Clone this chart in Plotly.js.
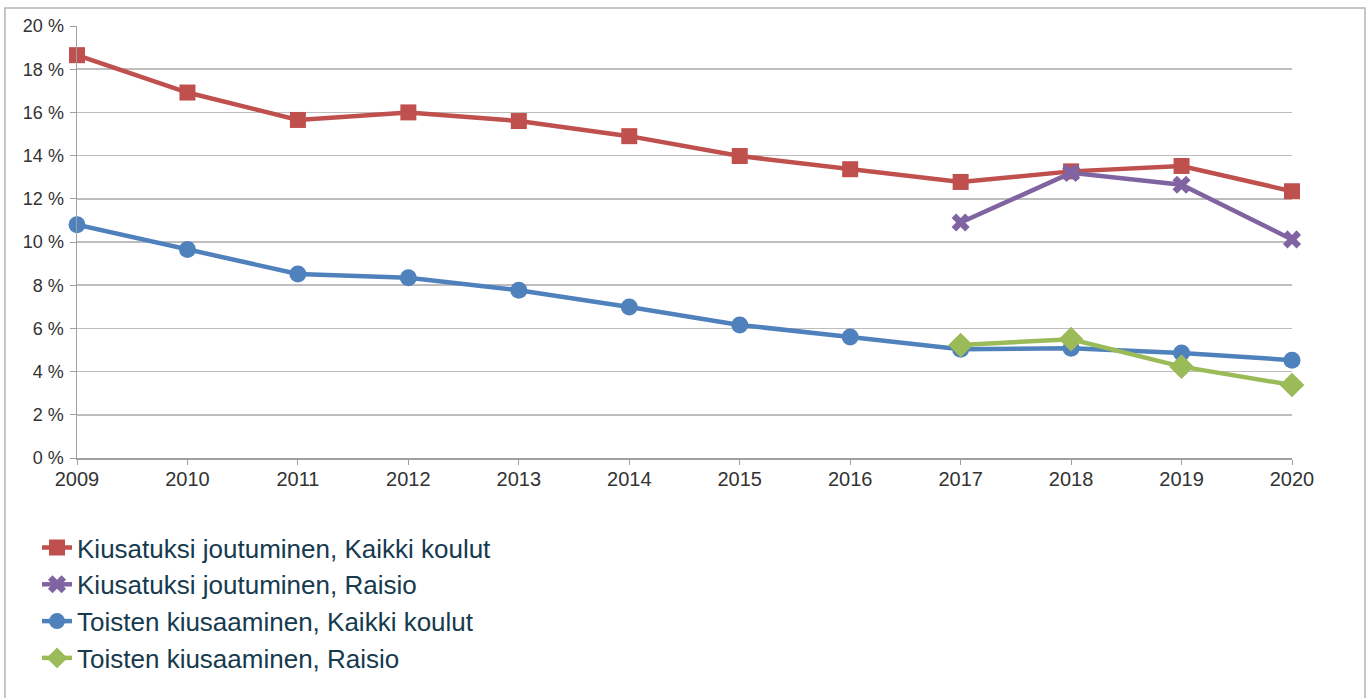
<!DOCTYPE html>
<html>
<head>
<meta charset="utf-8">
<script src="https://cdn.plot.ly/plotly-3.0.1.min.js"></script>
<style>html,body{margin:0;padding:0;background:#fff;}#chart{width:1367px;height:698px;}</style>
</head>
<body>
<div id="chart"></div>
<script>
const years = [2009, 2010, 2011, 2012, 2013, 2014, 2015, 2016, 2017, 2018, 2019, 2020];
const raisioYears = [2017, 2018, 2019, 2020];
const bulliedAll = [18.65, 16.92, 15.65, 16.0, 15.6, 14.9, 13.98, 13.37, 12.78, 13.27, 13.52, 12.35];
const bulliedRaisio = [10.9, 13.2, 12.65, 10.12];
const bullyingAll = [10.8, 9.65, 8.52, 8.34, 7.77, 6.99, 6.16, 5.6, 5.03, 5.08, 4.86, 4.53];
const bullyingRaisio = [5.23, 5.5, 4.23, 3.38];
const seriesNames = [
  "Kiusatuksi joutuminen, Kaikki koulut",
  "Kiusatuksi joutuminen, Raisio",
  "Toisten kiusaaminen, Kaikki koulut",
  "Toisten kiusaaminen, Raisio"
];
const yTickVals = [0, 2, 4, 6, 8, 10, 12, 14, 16, 18, 20];
const yTickText = ["0 %", "2 %", "4 %", "6 %", "8 %", "10 %", "12 %", "14 %", "16 %", "18 %", "20 %"];

const traces = [
  {x: years, y: bulliedAll, name: seriesNames[0], mode: "lines+markers",
   line: {color: "#C0504D", width: 4.5}, marker: {symbol: "square", size: 16, color: "#C0504D"}, cliponaxis: false, legendgroup: "a"},
  {x: raisioYears, y: bulliedRaisio, name: seriesNames[1], mode: "lines+markers",
   line: {color: "#8064A2", width: 4.5}, marker: {symbol: "x", size: 16, color: "#8064A2"}, cliponaxis: false, legendgroup: "b"},
  {x: years, y: bullyingAll, name: seriesNames[2], mode: "lines+markers",
   line: {color: "#4F81BD", width: 4.5}, marker: {symbol: "circle", size: 17, color: "#4F81BD"}, cliponaxis: false, legendgroup: "c"},
  {x: raisioYears, y: bullyingRaisio, name: seriesNames[3], mode: "lines+markers",
   line: {color: "#9BBB59", width: 4.5}, marker: {symbol: "diamond", size: 19, color: "#9BBB59"}, cliponaxis: false, legendgroup: "d"}
];

const layout = {
  width: 1367, height: 698,
  margin: {l: 77, r: 75, t: 26, b: 240, autoexpand: false},
  paper_bgcolor: "#ffffff", plot_bgcolor: "#ffffff",
  font: {family: "Liberation Sans, Arial, sans-serif", size: 18, color: "#333333"},
  showlegend: true,
  legend: {x: -0.0329, xanchor: "left", y: -0.153, yanchor: "top", orientation: "v",
    font: {family: "Liberation Sans, Arial, sans-serif", size: 26, color: "#163a4e"},
    tracegroupgap: 0, bgcolor: "rgba(0,0,0,0)"},
  xaxis: {range: [2009, 2020], tickvals: years, ticks: "outside", ticklen: 5, tickcolor: "#a0a0a0",
    ticklabelstandoff: -3,
    showgrid: false, zeroline: false, showline: true, linecolor: "#a0a0a0", linewidth: 1.5,
    tickfont: {size: 20, color: "#333333"}, fixedrange: true},
  yaxis: {range: [0, 20], tickvals: yTickVals, ticktext: yTickText, ticks: "outside", ticklen: 6,
    ticklabelstandoff: 2,
    tickcolor: "#a0a0a0", showgrid: true, gridcolor: "#bdbdbd", gridwidth: 1.5, zeroline: false,
    showline: true, linecolor: "#a0a0a0", linewidth: 1.5, tickfont: {size: 18, color: "#333333"}, fixedrange: true},
  shapes: [
    {type: "rect", xref: "paper", yref: "paper", x0: -0.0593, x1: 1.0601, y0: -0.6, y1: 1.0417,
     line: {color: "#b5b5b5", width: 1.5}, fillcolor: "rgba(0,0,0,0)", layer: "below"}
  ]
};

Plotly.newPlot("chart", traces, layout, {displayModeBar: false, staticPlot: true});
</script>
</body>
</html>
